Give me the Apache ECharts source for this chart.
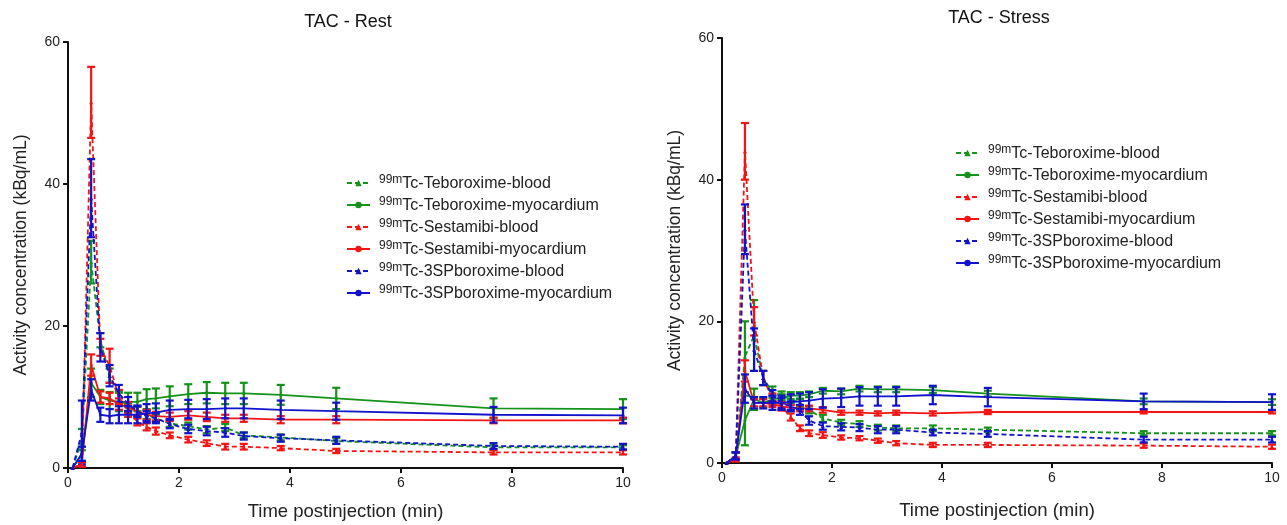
<!DOCTYPE html>
<html>
<head>
<meta charset="utf-8">
<script src="https://cdn.jsdelivr.net/npm/echarts@6/dist/echarts.min.js"></script>
<style>html,body{margin:0;padding:0;background:#fff}#c{width:1287px;height:525px}</style>
</head>
<body>
<div id="c"></div>
<script>
// time points (min)
const times = [0.083, 0.25, 0.417, 0.583, 0.75, 0.917, 1.083, 1.25, 1.417, 1.583, 1.833, 2.167, 2.5, 2.833, 3.167, 3.833, 4.833, 7.667, 10];
const seriesNames = ['Tc-Teboroxime-blood', 'Tc-Teboroxime-myocardium', 'Tc-Sestamibi-blood', 'Tc-Sestamibi-myocardium', 'Tc-3SPboroxime-blood', 'Tc-3SPboroxime-myocardium'];
const xTicks = [0, 2, 4, 6, 8, 10];
const yTicks = [0, 20, 40, 60];

// Rest
const tebBloodRest   = [0, 4, 29, 18, 13, 10, 8.5, 8, 7.5, 7, 6.3, 5.9, 5.4, 5.7, 4.6, 4.3, 3.8, 2.9, 2.9];
const tebBloodRestSD = [0, 1.5, 3, 1, 1, 0.8, 0.6, 0.6, 0.6, 0.5, 0.5, 0.5, 0.5, 0.5, 0.4, 0.4, 0.4, 0.3, 0.3];
const tebMyoRest     = [0, 2, 12, 10, 9.5, 9.3, 9.3, 9.3, 9.7, 9.8, 10.1, 10.4, 10.6, 10.5, 10.5, 10.3, 9.8, 8.4, 8.3];
const tebMyoRestSD   = [0, 1, 2, 1, 1.2, 1.3, 1.3, 1.3, 1.4, 1.4, 1.4, 1.4, 1.5, 1.5, 1.5, 1.4, 1.5, 1.4, 1.4];
const sestBloodRest  = [0, 0.5, 51.5, 17, 14.4, 10, 8, 6.5, 5.8, 5.2, 4.6, 4.0, 3.5, 3.0, 3.0, 2.8, 2.4, 2.2, 2.2];
const sestBloodRestSD= [0, 0.3, 5, 1.2, 2.4, 1, 0.8, 0.5, 0.5, 0.5, 0.4, 0.4, 0.4, 0.4, 0.4, 0.3, 0.3, 0.3, 0.3];
const sestMyoRest    = [0, 0.5, 14.5, 10, 9.8, 9, 8.5, 8, 7.5, 7.3, 7.2, 7.4, 7.2, 7.0, 7.0, 6.8, 6.8, 6.7, 6.7];
const sestMyoRestSD  = [0, 0.3, 1.5, 0.8, 0.8, 0.8, 0.8, 0.7, 0.7, 0.6, 0.6, 0.6, 0.6, 0.5, 0.5, 0.5, 0.5, 0.4, 0.4];
const spBloodRest    = [0, 5, 38, 17, 13, 10.5, 9, 8, 7.3, 7, 6.2, 5.5, 5.2, 5.0, 4.5, 4.2, 3.9, 3.1, 3.0];
const spBloodRestSD  = [0, 4.5, 5.5, 2, 1.5, 1.2, 1, 0.8, 0.7, 0.7, 0.6, 0.6, 0.6, 0.6, 0.5, 0.5, 0.5, 0.4, 0.4];
const spMyoRest      = [0, 2, 11, 7.5, 7.3, 7.5, 7.5, 7.5, 7.7, 7.8, 8.2, 8.3, 8.3, 8.4, 8.4, 8.2, 8.0, 7.5, 7.4];
const spMyoRestSD    = [0, 1, 1.5, 1, 1, 1.2, 1.2, 1.2, 1.3, 1.3, 1.3, 1.3, 1.4, 1.4, 1.4, 1.3, 1.2, 1.1, 1.1];

// Stress
const tebBloodStress   = [0, 1, 15, 18, 12, 10, 9.5, 9, 8.5, 7.5, 6.3, 5.7, 5.5, 5.0, 4.9, 4.9, 4.7, 4.2, 4.2];
const tebBloodStressSD = [0, 0.5, 5, 5, 1, 0.8, 0.6, 0.6, 0.6, 0.5, 0.5, 0.4, 0.4, 0.4, 0.4, 0.4, 0.3, 0.3, 0.3];
const tebMyoStress     = [0, 1, 6, 9, 8.5, 9, 9.2, 9.5, 9.5, 9.7, 10.2, 10.1, 10.5, 10.4, 10.4, 10.3, 9.8, 8.7, 8.6];
const tebMyoStressSD   = [0, 0.5, 3.5, 1.5, 0.6, 0.5, 0.5, 0.5, 0.5, 0.4, 0.4, 0.4, 0.4, 0.4, 0.4, 0.4, 0.4, 0.4, 0.4];
const sestBloodStress  = [0, 1, 44, 20, 12, 9, 8, 6.5, 4.9, 4.2, 3.95, 3.6, 3.5, 3.15, 2.8, 2.55, 2.55, 2.45, 2.3];
const sestBloodStressSD= [0, 0.5, 4, 2, 1, 0.8, 0.6, 0.5, 0.4, 0.4, 0.4, 0.3, 0.3, 0.3, 0.3, 0.3, 0.3, 0.3, 0.3];
const sestMyoStress    = [0, 0.5, 13, 8.5, 8.5, 8.3, 8.0, 7.8, 7.7, 7.7, 7.5, 7.1, 7.1, 7.0, 7.1, 7.0, 7.2, 7.2, 7.2];
const sestMyoStressSD  = [0, 0.3, 1.5, 0.5, 0.5, 0.4, 0.4, 0.4, 0.4, 0.4, 0.4, 0.3, 0.3, 0.3, 0.3, 0.3, 0.3, 0.2, 0.2];
const spBloodStress    = [0, 1, 33, 16, 12, 9.5, 8.5, 8, 7.5, 6, 5.2, 5.1, 5.0, 4.7, 4.7, 4.3, 4.1, 3.3, 3.3];
const spBloodStressSD  = [0, 0.5, 3.5, 3, 1, 0.8, 0.7, 0.7, 0.7, 0.6, 0.5, 0.5, 0.5, 0.5, 0.5, 0.4, 0.4, 0.4, 0.4];
const spMyoStress      = [0, 1, 10.5, 8.5, 8.5, 8.5, 8.5, 8.6, 8.7, 8.8, 9.1, 9.2, 9.4, 9.4, 9.4, 9.6, 9.3, 8.7, 8.6];
const spMyoStressSD    = [0, 0.5, 2, 0.8, 0.8, 1, 1, 1.1, 1.1, 1.2, 1.3, 1.3, 1.3, 1.3, 1.3, 1.3, 1.3, 1.1, 1.1];

const GREEN = '#14921a', RED = '#f41414', BLUE = '#1212cc';
const FONT = '"Liberation Sans", Arial, sans-serif';

const panels = [
  { means: [tebBloodRest, tebMyoRest, sestBloodRest, sestMyoRest, spBloodRest, spMyoRest],
    sds: [tebBloodRestSD, tebMyoRestSD, sestBloodRestSD, sestMyoRestSD, spBloodRestSD, spMyoRestSD] },
  { means: [tebBloodStress, tebMyoStress, sestBloodStress, sestMyoStress, spBloodStress, spMyoStress],
    sds: [tebBloodStressSD, tebMyoStressSD, sestBloodStressSD, sestMyoStressSD, spBloodStressSD, spMyoStressSD] }
];
const colors = [GREEN, GREEN, RED, RED, BLUE, BLUE];
const dashed = [true, false, true, false, true, false];

const series = [];
panels.forEach((p, pi) => {
  p.means.forEach((m, si) => {
    const color = colors[si];
    const sd = p.sds[si];
    series.push({
      type: 'custom', name: seriesNames[si] + ' SD' + pi, xAxisIndex: pi, yAxisIndex: pi,
      silent: true, z: 2 + si,
      data: times.map((t, i) => [t, Math.max(0, m[i] - sd[i]), m[i] + sd[i], sd[i]]),
      encode: { x: 0, y: [1, 2] },
      renderItem: function (params, api) {
        if (!api.value(3)) return null;
        const lo = api.coord([api.value(0), api.value(1)]);
        const hi = api.coord([api.value(0), api.value(2)]);
        const w = 4;
        const st = { stroke: color, lineWidth: 2.2 };
        return { type: 'group', children: [
          { type: 'line', shape: { x1: hi[0], y1: hi[1], x2: lo[0], y2: lo[1] }, style: st },
          { type: 'line', shape: { x1: hi[0] - w, y1: hi[1], x2: hi[0] + w, y2: hi[1] }, style: st },
          { type: 'line', shape: { x1: lo[0] - w, y1: lo[1], x2: lo[0] + w, y2: lo[1] }, style: st }
        ]};
      }
    });
    series.push({
      type: 'line', name: seriesNames[si], xAxisIndex: pi, yAxisIndex: pi, z: 3 + si,
      data: times.map((t, i) => [t, m[i]]),
      symbol: dashed[si] ? 'triangle' : 'circle', symbolSize: dashed[si] ? 4 : 3,
      showSymbol: true,
      itemStyle: { color: color },
      lineStyle: { color: color, width: 1.8, type: dashed[si] ? [5, 3] : 'solid' },
      emphasis: { disabled: true }, animation: false
    });
  });
});

function axisCommon() {
  return {
    axisLine: { show: true, onZero: false, lineStyle: { color: '#111', width: 2 } },
    axisTick: { show: true, length: 5, lineStyle: { color: '#111', width: 2 } },
    splitLine: { show: false },
    axisLabel: { fontSize: 14, color: '#222', margin: 8, fontFamily: FONT },
    nameLocation: 'middle'
  };
}
function xAxis(gi, gap) {
  return Object.assign(axisCommon(), { type: 'value', gridIndex: gi, min: xTicks[0], max: xTicks[xTicks.length - 1], interval: xTicks[1] - xTicks[0],
    name: 'Time postinjection (min)', nameGap: gap,
    nameTextStyle: { fontSize: 18.5, color: '#222', fontFamily: FONT } });
}
function yAxis(gi) {
  return Object.assign(axisCommon(), { type: 'value', gridIndex: gi, min: yTicks[0], max: yTicks[yTicks.length - 1], interval: yTicks[1] - yTicks[0],
    name: 'Activity concentration (kBq/mL)', nameGap: 38,
    nameTextStyle: { fontSize: 17.5, color: '#222', fontFamily: FONT } });
}
function legend(left, top) {
  return {
    orient: 'vertical', left: left, top: top, padding: 0, itemGap: 4,
    itemWidth: 23, itemHeight: 8,
    data: seriesNames,
    formatter: n => '{s|99m}{t|' + n + '}',
    textStyle: { fontFamily: FONT, color: '#222', rich: {
      s: { fontSize: 12, lineHeight: 11, verticalAlign: 'top', padding: [0, 0, 0, 4], fontFamily: FONT, color: '#222' },
      t: { fontSize: 16, lineHeight: 18, verticalAlign: 'bottom', fontFamily: FONT, color: '#222' }
    }},
    selectedMode: false
  };
}

const chart = echarts.init(document.getElementById('c'), null, { renderer: 'canvas' });
chart.setOption({
  animation: false,
  backgroundColor: '#fff',
  textStyle: { fontFamily: FONT },
  grid: [
    { left: 68, top: 42, width: 555, height: 426, containLabel: false, outerBoundsMode: 'none' },
    { left: 722, top: 38, width: 550, height: 425, containLabel: false, outerBoundsMode: 'none' }
  ],
  xAxis: [xAxis(0, 34), xAxis(1, 38)],
  yAxis: [yAxis(0), yAxis(1)],
  legend: [legend(346, 174), legend(955, 144)],
  graphic: [
    { type: 'text', x: 348, y: 22, style: { text: 'TAC - Rest', fontSize: 18, fontFamily: FONT, fill: '#111', align: 'center', verticalAlign: 'middle' } },
    { type: 'text', x: 999, y: 18.5, style: { text: 'TAC - Stress', fontSize: 18, fontFamily: FONT, fill: '#111', align: 'center', verticalAlign: 'middle' } }
  ],
  series: series
});
</script>
</body>
</html>
